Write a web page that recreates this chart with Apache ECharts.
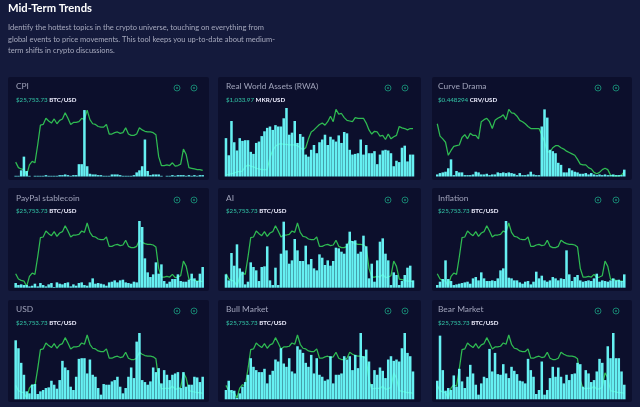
<!DOCTYPE html>
<html><head><meta charset="utf-8">
<script src="https://cdn.jsdelivr.net/npm/echarts@6/dist/echarts.min.js"></script>
<style>html,body{margin:0;padding:0;background:#141a3c}#c{width:640px;height:407px}</style>
</head><body><div id="c"></div>
<script>
const heading = 'Mid-Term Trends';
const description = ['Identify the hottest topics in the crypto universe, touching on everything from',
 'global events to price movements. This tool keeps you up-to-date about medium-',
 'term shifts in crypto discussions.'];
const titles = ['CPI','Real World Assets (RWA)','Curve Drama','PayPal stablecoin','AI','Inflation','USD','Bull Market','Bear Market'];
const prices = ['$25,753.73','$1,033.97','$0.448294','$25,753.73','$25,753.73','$25,753.73','$25,753.73','$25,753.73','$25,753.73'];
const pairs = ['BTC/USD','MKR/USD','CRV/USD','BTC/USD','BTC/USD','BTC/USD','BTC/USD','BTC/USD','BTC/USD'];

const btcLine = [21,13,11,10,2,17,22,20,46,75, 76,85,81,78,84,77,82,84,93,85, 76,79,79,80,85,83,97,83,77,76,
 73,72,72,76,62,62,64,65,63,64, 71,62,60,60,62,71,68,66,65,65, 64,61,29,16,16,17,16,20,15,16, 18,40,32,13,12,11,10,10,9];
const mkrLine = [2,3,4,5,7,7,8,14,17,15, 14,12,11,10,10,10,28,38,44,47, 48,47,47,46,46,46,45,42,39,42,
 55,65,68,72,76,78,75,80,88,80, 98,91,92,86,82,81,80,86,85,85, 85,78,68,62,66,65,59,60,54,62, 55,58,60,73,71,70,68,70,70];
const crvLine = [77,59,55,50,31,38,44,45,46,57, 61,55,63,60,60,55,80,83,85,80, 70,82,85,87,90,83,98,93,92,88,
 82,80,77,73,70,70,70,70,61,51, 36,36,42,45,45,42,40,37,35,33, 31,25,18,17,17,13,11,6,4,6, 10,12,10,2,1,1,1,2,7];

const cpiBars = [1,1,9,29,8,1,0,1,1,1, 1,2,1,1,1,1,2,2,3,2, 1,2,2,18,18,97,15,4,3,3,
 2,2,1,1,1,3,3,3,2,1, 1,1,1,2,6,9,15,54,8,2, 3,3,3,1,0,1,1,2,1,2, 2,2,1,2,1,2,1,2,2];
const rwaBars = [56,31,81,50,38,56,52,53,53,36, 33,49,51,59,66,71,73,68,75,73, 73,85,100,61,64,81,49,62,58,32,
 29,39,46,34,50,54,61,46,58,54, 51,60,49,65,63,39,32,33,34,54, 32,46,34,34,37,18,32,38,39,38, 34,15,23,21,42,45,22,32,32];
const crvBars = [3,5,6,7,12,25,2,8,6,6, 2,2,2,3,7,6,3,3,4,2, 3,3,6,5,6,5,6,5,4,2, 5,2,2,3,7,3,2,2,73,98,
 86,39,37,34,20,17,6,6,12,9, 7,6,4,4,5,3,5,3,2,3, 2,3,2,2,3,2,2,2,10];
const paypalBars = [7,4,5,4,4,2,3,6,2,7, 4,2,5,7,1,8,6,5,7,8, 2,5,3,7,8,4,3,8,14,6, 7,6,5,3,8,9,11,8,11,12,
 8,7,6,9,8,100,91,44,23,16, 20,38,21,35,10,6,9,13,13,20, 10,9,9,12,21,14,10,21,31];
const aiBars = [20,11,52,33,65,29,24,5,9,38, 31,26,10,31,32,62,11,4,30,4, 51,99,56,36,41,73,56,40,40,63,
 35,43,29,26,50,45,34,41,33,40, 60,59,54,51,66,84,70,71,51,54, 78,62,14,36,9,41,69,74,51,41, 4,23,19,4,10,19,30,33,11];
const inflationBars = [4,9,13,41,13,10,4,5,6,7, 8,9,6,14,16,11,23,14,10,10, 11,10,14,26,29,100,15,14,11,11,
 8,6,9,10,5,9,24,14,18,11, 9,11,16,14,11,14,13,56,20,10, 16,19,11,9,10,11,10,14,21,9, 11,10,9,11,14,11,12,10,20];
const usdBars = [89,77,55,37,12,9,22,23,8,12, 14,17,18,28,22,16,29,58,48,44, 19,14,34,61,62,62,39,60,37,34,
 17,7,23,22,22,27,29,34,19,9, 17,34,48,32,87,100,29,26,22,27, 48,41,47,24,44,37,29,37,39,41, 17,41,19,22,22,34,33,26,34];
const bullBars = [14,28,14,13,2,9,19,26,37,62, 49,44,41,41,46,24,37,43,60,57, 77,54,49,62,42,39,80,75,70,55,
 49,67,39,62,37,34,28,30,65,24, 37,37,39,65,60,65,44,67,47,100, 65,75,57,23,44,37,48,43,32,60, 65,58,60,57,77,100,70,65,42];
const bearBars = [28,96,44,13,17,14,36,19,46,27, 17,34,52,39,22,7,24,34,32,76, 42,70,38,37,53,39,32,49,43,38,
 28,27,24,61,44,34,8,14,57,7, 14,32,49,34,48,34,24,37,29,38, 39,55,53,19,44,39,26,29,42,61, 55,29,80,62,100,62,62,42,22];

const barSets = [cpiBars,rwaBars,crvBars,paypalBars,aiBars,inflationBars,usdBars,bullBars,bearBars];
const lineSets = [btcLine,mkrLine,crvLine,btcLine,btcLine,btcLine,btcLine,btcLine,btcLine];

// layout of the dashboard
const colX = [[8,201],[218,203],[432,200]];
const plotX = [[14.3,189.75],[224.6,189.75],[435.9,189.75]];
const rowY = [[77,103],[188,103],[300,102]];
const plotY = [[108,68.5],[221,66.7],[333,66.3]];
const titleX = [16,226,438];
const titleY = [88,200,311];
const priceY = [101,212.5,324.5];
const iconX = [[177,194],[388,405],[598,616]];
const C = {bar:'#6cffff',line:'#2fbb52',panel:'#0c0f2c',teal:'#2fb59c',muted:'#a0a3ba',icon:'#17806f'};
const font = 'Lato, "Open Sans", sans-serif';

const grids=[],xAxes=[],yAxes=[],series=[],graphic=[];
graphic.push({type:'text',left:8,top:3,style:{text:heading,fill:'#fff',font:'700 11.2px '+font}});
description.forEach((t,i)=>graphic.push({type:'text',left:8,top:24+i*11.4,style:{text:t,fill:'#a6a9bd',font:'7.5px '+font}}));
titles.forEach((t,k)=>{
  const c=k%3,r=Math.floor(k/3);
  graphic.push({type:'rect',z:-10,shape:{x:colX[c][0],y:rowY[r][0],width:colX[c][1],height:rowY[r][1],r:2},style:{fill:C.panel}});
  graphic.push({type:'text',left:titleX[c],top:titleY[r]-5.5,style:{text:t,fill:C.muted,font:'8.4px '+font}});
  graphic.push({type:'text',left:titleX[c],top:priceY[r]-4,style:{
    text:'{a|'+prices[k]+' }{b|'+pairs[k]+'}',rich:{a:{fill:C.teal,font:'600 6.2px '+font},b:{fill:'#eef',font:'700 6.2px '+font}}}});
  iconX[c].forEach(x=>{
    graphic.push({type:'circle',shape:{cx:x,cy:titleY[r],r:3},style:{fill:'none',stroke:C.icon,lineWidth:1}});
    graphic.push({type:'circle',shape:{cx:x,cy:titleY[r],r:1},style:{fill:C.icon}});
  });
  grids.push({left:plotX[c][0],top:plotY[r][0],width:plotX[c][1],height:plotY[r][1]});
  const cats=barSets[k].map((_,i)=>i);
  xAxes.push({type:'category',gridIndex:k,data:cats,show:false,boundaryGap:true});
  yAxes.push({type:'value',gridIndex:k,min:0,max:100,show:false});
  series.push({type:'line',xAxisIndex:k,yAxisIndex:k,data:lineSets[k],showSymbol:false,z:2,silent:true,
    lineStyle:{color:C.line,width:1.25}});
  series.push({type:'bar',xAxisIndex:k,yAxisIndex:k,data:barSets[k],barCategoryGap:'8%',z:3,silent:true,
    itemStyle:{color:C.bar,opacity:0.94}});
});
const chart=echarts.init(document.getElementById('c'),null,{renderer:'canvas'});
chart.setOption({animation:false,backgroundColor:'#141a3c',grid:grids,xAxis:xAxes,yAxis:yAxes,series,graphic,tooltip:{show:false}});
</script></body></html>
